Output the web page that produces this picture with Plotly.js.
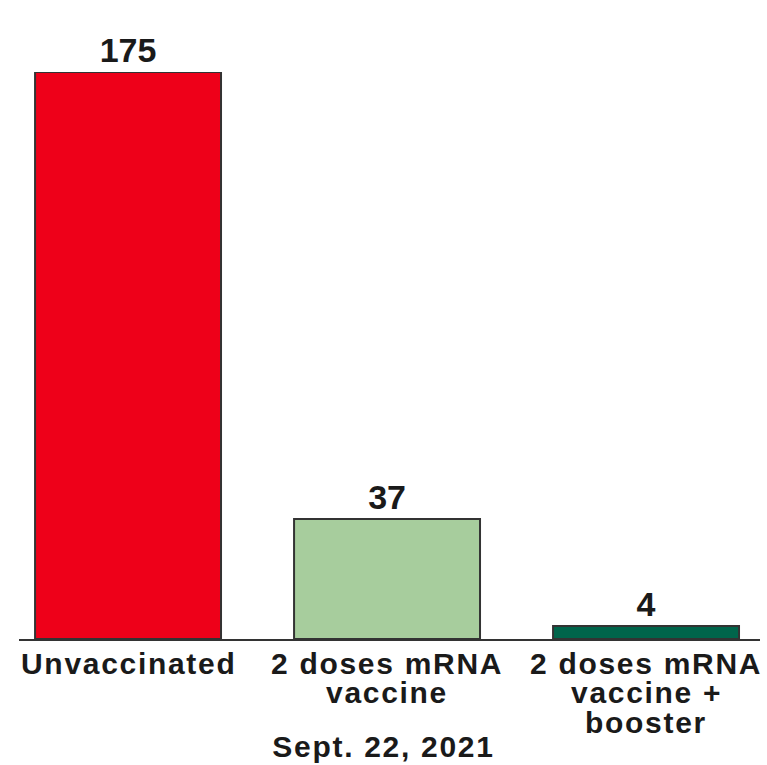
<!DOCTYPE html>
<html>
<head>
<meta charset="utf-8">
<script src="https://cdn.plot.ly/plotly-3.0.1.min.js"></script>
<style>
html,body{margin:0;padding:0;background:#fff;}
#chart{width:767px;height:765px;}
.annotation-text, .gtitle { letter-spacing: 1.7px; }
</style>
</head>
<body>
<div id="chart"></div>
<script>
// Data
const categories = ["Unvaccinated", "2 doses mRNA vaccine", "2 doses mRNA vaccine + booster"];
const tickLabelLines = [["Unvaccinated"], ["2 doses mRNA", "vaccine"], ["2 doses mRNA", "vaccine +", "booster"]];
const values = [175, 37, 4];
const barColors = ["#ee0019", "#a7cd9d", "#00654b"];
const chartTitle = "Sept. 22, 2021";

const FONT = "Liberation Sans, Arial, Helvetica, sans-serif";
const TXT = "#1a1a1a";

const trace = {
  type: "bar",
  x: categories,
  y: values,
  marker: { color: barColors, line: { color: "#333333", width: 2 } },
  text: values.map(String),
  textposition: "outside",
  cliponaxis: false,
  textfont: { family: FONT, size: 34, color: TXT, weight: "bold" },
  hoverinfo: "none"
};

const annotations = [];
tickLabelLines.forEach((lines, i) => {
  lines.forEach((ln, j) => {
    annotations.push({
      x: categories[i], xref: "x",
      y: 0, yref: "y",
      yanchor: "middle",
      yshift: -24 - j * 29.5,
      text: ln,
      showarrow: false,
      font: { family: FONT, size: 30, color: TXT, weight: "bold" }
    });
  });
});

const layout = {
  width: 767, height: 765,
  margin: { l: 0, r: 0, t: 72, b: 126 },
  paper_bgcolor: "#ffffff",
  plot_bgcolor: "#ffffff",
  showlegend: false,
  bargap: 0.282,
  title: {
    text: chartTitle,
    x: 0.5, xref: "container", xanchor: "center",
    y: 1 - 746 / 765, yref: "container", yanchor: "middle",
    font: { family: FONT, size: 30, color: TXT, weight: "bold" }
  },
  xaxis: {
    domain: [19 / 767, 760 / 767],
    range: [-0.421, 2.44],
    showline: true, linecolor: "#333333", linewidth: 2,
    showticklabels: false, ticks: "", showgrid: false, zeroline: false,
    fixedrange: true
  },
  yaxis: {
    range: [0, 175],
    visible: false, showgrid: false, zeroline: false,
    fixedrange: true
  },
  annotations: annotations
};

Plotly.newPlot("chart", [trace], layout, { displayModeBar: false, staticPlot: true });
</script>
</body>
</html>
